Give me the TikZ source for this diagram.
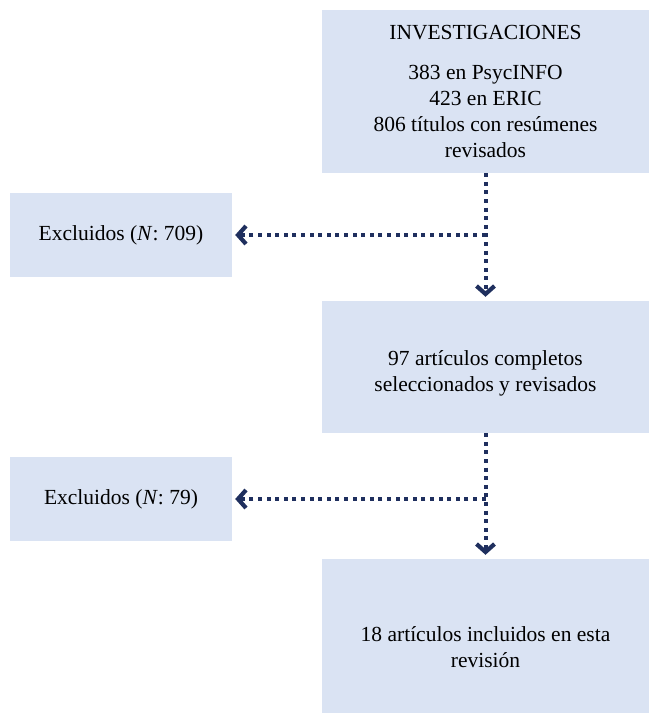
\documentclass[tikz,border=0pt]{standalone}
\usepackage{fontspec}
\setmainfont{Liberation Serif}
\usetikzlibrary{positioning,calc,arrows.meta}
\definecolor{boxblue}{HTML}{DAE3F3}
\definecolor{navy}{HTML}{1F2F5E}
\tikzset{
  sbox/.style   = {fill=boxblue, inner sep=0pt, align=center,
                   font=\fontsize{21.5}{26}\selectfont},
  bigbox/.style = {sbox, minimum width=327pt},
  exbox/.style  = {sbox, minimum width=222pt, minimum height=84pt},
  dwire/.style  = {navy, line width=4pt, dash pattern=on 4pt off 4.6pt,
                   -{Straight Barb[length=8pt,width=18pt,line width=4.2pt]}},
}

\begin{document}
\begin{tikzpicture}[x=1pt,y=-1pt]
  \useasboundingbox (0,0) rectangle (649,715);
  \node[bigbox, minimum height=163pt] (inv) at (485.5,91.5)
    {INVESTIGACIONES\\[14pt] 383 en PsycINFO\\ 423 en ERIC\\
     806 títulos con resúmenes\\ revisados};
  \node[exbox] (exc1) at (121,235) {Excluidos (\textit{N}: 709)};
  \node[bigbox, minimum height=132pt] (sel) at (485.5,367)
    {\rule{0pt}{27pt}97 artículos completos\\ seleccionados y revisados};
  \node[exbox] (exc2) at (121,499) {Excluidos (\textit{N}: 79)};
  \node[bigbox, minimum height=154pt] (inc) at (485.5,636)
    {\rule{0pt}{37pt}18 artículos incluidos en esta\\ revisión};
  % dotted connectors
  \draw[dwire, shorten >=4pt] (inv) -- (sel);
  \coordinate (j1) at (inv.south |- exc1.east);
  \draw[dwire, shorten >=3pt] (j1) -- (exc1);
  \draw[dwire, shorten >=4pt] (sel) -- (inc);
  \coordinate (j2) at (sel.south |- exc2.east);
  \draw[dwire, shorten >=3pt] (j2) -- (exc2);
\end{tikzpicture}
\end{document}
